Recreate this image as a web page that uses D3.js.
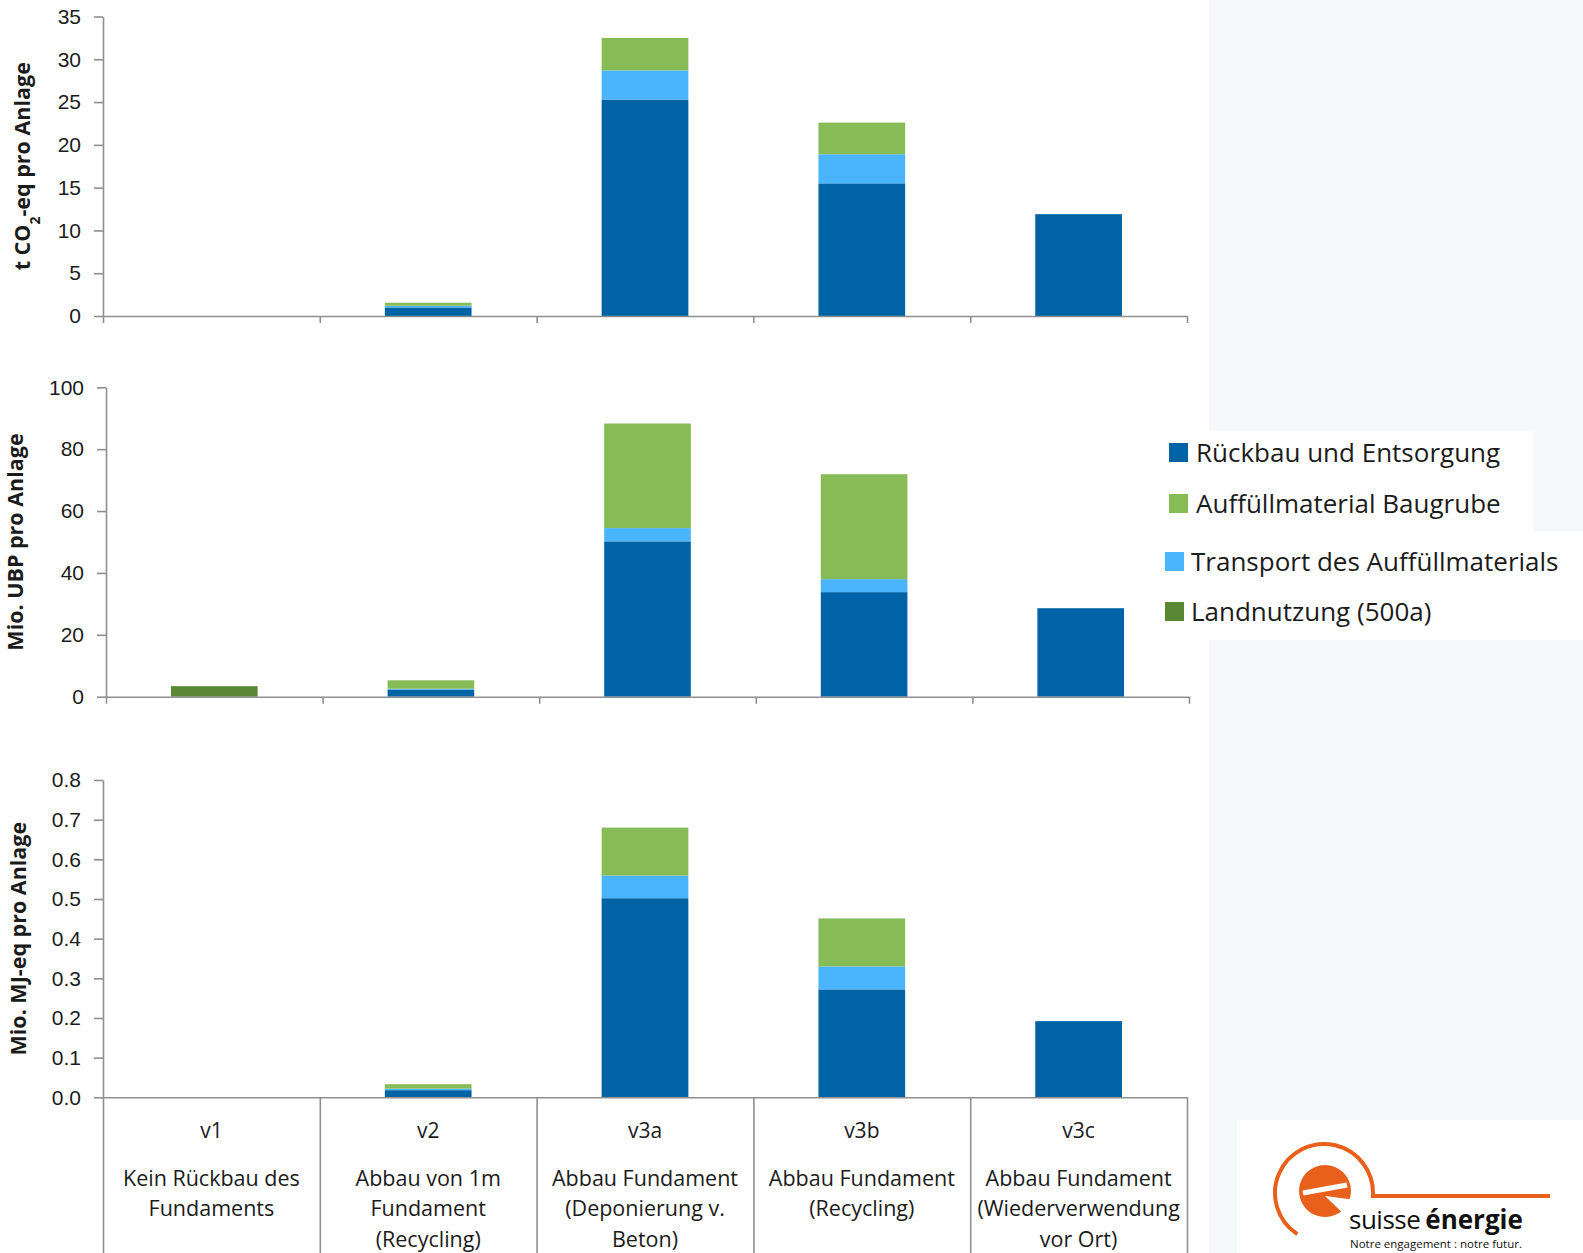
<!DOCTYPE html>
<html>
<head>
<meta charset="utf-8">
<script src="https://cdn.jsdelivr.net/npm/d3@7"></script>
<style>
  body { margin: 0; background: #fff; }
  svg { display: block; font-family: 'Open Sans', 'Noto Sans', sans-serif; }
</style>
</head>
<body>
<svg id="chart" width="1583" height="1253"></svg>
<script>
// Data
const categories = ['v1', 'v2', 'v3a', 'v3b', 'v3c'];
const descriptions = [
    ['Kein Rückbau des', 'Fundaments'],
    ['Abbau von 1m', 'Fundament', '(Recycling)'],
    ['Abbau Fundament', '(Deponierung v.', 'Beton)'],
    ['Abbau Fundament', '(Recycling)'],
    ['Abbau Fundament', '(Wiederverwendung', 'vor Ort)']
];
const seriesKeys = ['rueckbau', 'transport', 'auffuell', 'land'];
const seriesNames = {
    rueckbau: 'Rückbau und Entsorgung',
    auffuell: 'Auffüllmaterial Baugrube',
    transport: 'Transport des Auffüllmaterials',
    land: 'Landnutzung (500a)'
};
const legendOrder = ['rueckbau', 'auffuell', 'transport', 'land'];
const seriesColors = { rueckbau: '#0063a6', auffuell: '#86bb55', transport: '#4ab5fd', land: '#5a8734' };

// t CO2-eq pro Anlage
const co2Rueckbau = [0, 1.0, 25.3, 15.5, 11.9];
const co2Transport = [0, 0.2, 3.4, 3.4, 0];
const co2Auffuell = [0, 0.35, 3.8, 3.7, 0];
const co2Land = [0, 0, 0, 0, 0];
const co2Ticks = [0, 5, 10, 15, 20, 25, 30, 35];

// Mio. UBP pro Anlage
const ubpRueckbau = [0, 2.3, 50.2, 33.8, 28.6];
const ubpTransport = [0, 0.3, 4.3, 4.2, 0];
const ubpAuffuell = [0, 2.7, 33.8, 33.9, 0];
const ubpLand = [3.4, 0, 0, 0, 0];
const ubpTicks = [0, 20, 40, 60, 80, 100];

// Mio. MJ-eq pro Anlage
const mjRueckbau = [0, 0.018, 0.502, 0.272, 0.192];
const mjTransport = [0, 0.004, 0.057, 0.058, 0];
const mjAuffuell = [0, 0.011, 0.121, 0.121, 0];
const mjLand = [0, 0, 0, 0, 0];
const mjTicks = [0, 0.1, 0.2, 0.3, 0.4, 0.5, 0.6, 0.7, 0.8];

function toRows(r, t, a, l) {
    return categories.map((c, i) => ({ cat: c, rueckbau: r[i], transport: t[i], auffuell: a[i], land: l[i] }));
}

const panels = [
    { title: 't CO', sub: '2', rest: '-eq pro Anlage', rows: toRows(co2Rueckbau, co2Transport, co2Auffuell, co2Land),
      ticks: co2Ticks, fmt: d3.format('d'), left: 103, right: 1187, top: 16.5, bottom: 316, titleX: 22 },
    { title: 'Mio. UBP pro Anlage', rows: toRows(ubpRueckbau, ubpTransport, ubpAuffuell, ubpLand),
      ticks: ubpTicks, fmt: d3.format('d'), left: 106, right: 1189, top: 387.3, bottom: 696.7, titleX: 15 },
    { title: 'Mio. MJ-eq pro Anlage', rows: toRows(mjRueckbau, mjTransport, mjAuffuell, mjLand),
      ticks: mjTicks, fmt: d3.format('.1f'), left: 103, right: 1187, top: 780, bottom: 1097.3, titleX: 18, table: true }
];

const svg = d3.select('#chart');
const W = 1583, H = 1253;
const axisColor = '#8f8f8f';
const textColor = '#1b1b1b';

// light page background on the right
svg.append('rect').attr('x', 1209).attr('y', 0).attr('width', W - 1209).attr('height', H).attr('fill', '#f6f9fb');
svg.append('rect').attr('x', 1150).attr('y', 431.7).attr('width', 383).attr('height', 100).attr('fill', '#fff');
svg.append('rect').attr('x', 1150).attr('y', 531.7).attr('width', W - 1150).attr('height', 108.3).attr('fill', '#fff');
svg.append('rect').attr('x', 1237).attr('y', 1120).attr('width', W - 1237).attr('height', H - 1120).attr('fill', '#fff');

const stack = d3.stack().keys(seriesKeys);

panels.forEach(p => {
    const g = svg.append('g');

    const x = d3.scaleBand()
        .domain(categories)
        .range([p.left, p.right])
        .paddingInner(0.6)
        .paddingOuter(0.3);

    const xb = d3.scaleLinear().domain([0, categories.length]).range([p.left, p.right]);

    const y = d3.scaleLinear()
        .domain([0, p.ticks[p.ticks.length - 1]])
        .range([p.bottom, p.top]);

    const layers = stack(p.rows);

    g.selectAll('.layer')
        .data(layers)
        .enter().append('g')
        .attr('fill', d => seriesColors[d.key])
        .selectAll('rect')
        .data(d => d)
        .enter().append('rect')
        .attr('x', d => x(d.data.cat))
        .attr('y', d => y(d[1]))
        .attr('width', x.bandwidth())
        .attr('height', d => y(d[0]) - y(d[1]));

    // y axis
    const ya = g.append('g')
        .attr('transform', `translate(${p.left},0)`)
        .call(d3.axisLeft(y).tickValues(p.ticks).tickFormat(p.fmt).tickSize(9).tickSizeOuter(0).tickPadding(13));
    ya.selectAll('text').attr('fill', textColor).style('font-size', '21px');

    // x axis with ticks between categories
    const xa = g.append('g')
        .attr('transform', `translate(0,${p.bottom})`)
        .call(d3.axisBottom(xb).tickValues(d3.range(categories.length + 1)).tickFormat('')
            .tickSize(p.table ? H - p.bottom : 7).tickSizeOuter(0));

    [ya, xa].forEach(a => {
        a.selectAll('path, line').attr('stroke', axisColor).attr('stroke-width', 1.6);
    });

    // y axis title
    const title = g.append('text')
        .attr('transform', `translate(${p.titleX},${(p.top + p.bottom) / 2}) rotate(-90)`)
        .attr('text-anchor', 'middle')
        .attr('dy', '0.35em')
        .attr('fill', textColor)
        .style('font-size', '21.5px')
        .style('font-weight', 'bold');
    title.append('tspan').text(p.title);
    if (p.sub) {
        title.append('tspan').attr('baseline-shift', 'sub').style('font-size', '14px').text(p.sub);
        title.append('tspan').text(p.rest);
    }

    // category table
    if (p.table) {
        const lab = g.append('g').selectAll('g')
            .data(categories)
            .enter().append('g')
            .attr('transform', d => `translate(${x(d) + x.bandwidth() / 2},0)`);
        lab.append('text')
            .attr('y', 1131)
            .attr('dy', '0.35em')
            .attr('text-anchor', 'middle')
            .attr('fill', textColor)
            .style('font-size', '21px')
            .text(d => d);
        lab.each(function (d, i) {
            d3.select(this).selectAll('.desc')
                .data(descriptions[i])
                .enter().append('text')
                .attr('class', 'desc')
                .attr('y', (t, j) => 1178 + j * 30.5)
                .attr('dy', '0.35em')
                .attr('text-anchor', 'middle')
                .attr('fill', textColor)
                .style('font-size', '21.5px')
                .text(t => t);
        });
    }
});

// Legend
const legendPos = [
    { bx: 1169, by: 443, tx: 1196, ty: 453 },
    { bx: 1169, by: 494, tx: 1196, ty: 504 },
    { bx: 1165, by: 552, tx: 1191, ty: 562 },
    { bx: 1165, by: 602, tx: 1191, ty: 612 }
];
const legend = svg.append('g').selectAll('g')
    .data(legendOrder)
    .enter().append('g');
legend.append('rect')
    .attr('x', (d, i) => legendPos[i].bx)
    .attr('y', (d, i) => legendPos[i].by)
    .attr('width', 19).attr('height', 19)
    .attr('fill', d => seriesColors[d]);
legend.append('text')
    .attr('x', (d, i) => legendPos[i].tx)
    .attr('y', (d, i) => legendPos[i].ty)
    .attr('dy', '0.35em')
    .attr('fill', textColor)
    .style('font-size', '26px')
    .text(d => seriesNames[d]);

// suisse énergie logo
const orange = '#e8601c';
const logo = svg.append('g');
const arcPath = d3.path();
arcPath.arc(1324, 1193, 49, 123 * Math.PI / 180, 363.5 * Math.PI / 180);
arcPath.lineTo(1550, 1196);
logo.append('path').attr('d', arcPath.toString()).attr('fill', 'none').attr('stroke', orange).attr('stroke-width', 4);
logo.append('circle').attr('cx', 1325).attr('cy', 1191).attr('r', 26).attr('fill', orange);
// white cut-outs forming the "e"
logo.append('path')
    .attr('d', 'M1303,1193 L1347,1185')
    .attr('stroke', '#fff').attr('stroke-width', 5);
logo.append('path')
    .attr('d', 'M1325,1196 L1356,1200 L1352,1222 Z')
    .attr('fill', '#fff');
const logoText = logo.append('text').attr('x', 1349).attr('y', 1229).attr('fill', '#111').style('font-size', '26px');
logoText.append('tspan').style('letter-spacing', '-0.5px').text('suisse');
logoText.append('tspan').attr('dx', 5).style('font-weight', 'bold').text('énergie');
logo.append('text').attr('x', 1350).attr('y', 1248).attr('fill', '#111').style('font-size', '11.5px').text('Notre engagement : notre futur.');
</script>
</body>
</html>
